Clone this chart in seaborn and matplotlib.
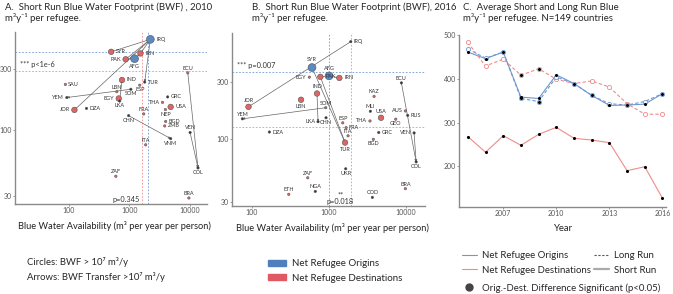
import matplotlib
matplotlib.use('Agg')
import numpy as np
import pandas as pd
import matplotlib.pyplot as plt
import seaborn as sns
from matplotlib.lines import Line2D
from matplotlib.patches import Patch

sns.set_theme(style='white')
plt.rcParams['font.family'] = ['Lato', 'DejaVu Sans']

# ---- panel A: 2010 (o = net origin, d = net destination, k = other) ----
a_code = ['IRQ', 'SYR', 'IRN', 'AFG', 'PAK', 'ECU', 'IND', 'TUR', 'ESP', 'SAU', 'LBN', 'SOM',
          'YEM', 'EGY', 'LKA', 'THA', 'GRC', 'USA', 'NEP', 'JOR', 'DZA', 'FRA', 'CHN', 'BGD',
          'ZMB', 'VEN', 'VNM', 'ITA', 'COL', 'ZAF', 'BRA']
a_bwa = [2213, 500, 1520, 1216, 866, 9160, 755, 1786, 1482, 88, 620, 1056,
         93, 667, 690, 3510, 4270, 4785, 3920, 124, 196, 1722, 970, 3960,
         3820, 10000, 4785, 1853, 13500, 597, 9560]
a_bwf = [514, 410, 398, 362, 358, 280, 246, 237, 224, 227, 199, 208,
         179, 176, 168, 164, 181, 151, 144, 143, 147, 133, 129, 116,
         107, 95, 85, 76, 50, 43, 29]
a_kind = ['o', 'd', 'd', 'o', 'd', 'd', 'd', 'k', 'd', 'd', 'd', 'k',
          'k', 'd', 'k', 'd', 'k', 'd', 'd', 'd', 'k', 'd', 'k', 'd',
          'd', 'k', 'k', 'd', 'k', 'd', 'd']
a_mag = ['L', 'M', 'M', 'L', 'M', 'S', 'M', 'S', 'S', 'S', 'S', 'S',
         'S', 'M', 'S', 'S', 'S', 'M', 'S', 'M', 'S', 'S', 'S', 'S',
         'S', 'S', 'S', 'S', 'S', 'S', 'S']
a_arrows = [('IRQ', 'SYR'), ('IRQ', 'IRN'), ('IRQ', 'PAK'), ('IRQ', 'JOR'), ('IRQ', 'TUR'),
            ('AFG', 'PAK'), ('AFG', 'IRN'), ('SOM', 'YEM'), ('LKA', 'IND'), ('CHN', 'VNM'),
            ('ECU', 'COL'), ('VEN', 'COL')]
a_mean_orig = (2024, 406)
a_mean_dest = (1637, 289)
a_sig_top = '*** p<1e-6'
a_sig_bottom = 'p=0.345'

# ---- panel B: 2016 ----
b_code = ['IRQ', 'SYR', 'PAK', 'AFG', 'IRN', 'EGY', 'ECU', 'IND', 'KAZ', 'LBN', 'JOR', 'SOM',
          'MLI', 'AUS', 'RUS', 'USA', 'YEM', 'THA', 'GEO', 'ESP', 'LKA', 'CHN', 'FRA', 'DZA',
          'GRC', 'VEN', 'ITA', 'BGD', 'TUR', 'UKR', 'COL', 'ZAF', 'BRA', 'NGA', 'ETH', 'COD']
b_bwa = [1914, 601, 771, 1000, 1361, 555, 8690, 698, 3840, 433, 90, 906,
         3436, 9780, 10500, 4730, 75, 3400, 7340, 1506, 720, 914, 1664, 168,
         4415, 12700, 1766, 3760, 1614, 1645, 13500, 529, 9780, 663, 300, 3650]
b_bwf = [646, 394, 330, 336, 323, 328, 294, 240, 227, 213, 186, 183,
         171, 172, 158, 151, 148, 142, 147, 137, 140, 151, 125, 115,
         114, 113, 107, 100, 94, 57, 65, 48, 39, 37, 35, 33]
b_kind = ['k', 'o', 'd', 'o', 'd', 'd', 'k', 'd', 'd', 'd', 'd', 'o',
          'k', 'd', 'k', 'd', 'k', 'd', 'd', 'd', 'k', 'k', 'd', 'k',
          'k', 'k', 'd', 'd', 'd', 'k', 'k', 'd', 'd', 'k', 'd', 'k']
b_mag = ['S', 'L', 'M', 'L', 'M', 'S', 'S', 'M', 'S', 'M', 'M', 'S',
         'S', 'S', 'S', 'M', 'S', 'S', 'S', 'S', 'S', 'S', 'S', 'S',
         'S', 'S', 'S', 'S', 'M', 'S', 'S', 'S', 'S', 'S', 'S', 'S']
b_arrows = [('IRQ', 'JOR'), ('SYR', 'TUR'), ('PAK', 'TUR'), ('AFG', 'PAK'), ('AFG', 'IRN'),
            ('IND', 'LKA'), ('SOM', 'YEM'), ('ECU', 'COL'), ('VEN', 'COL')]
b_mean_orig = (1009, 361)
b_mean_dest = (1950, 127)
b_sig_top = '*** p=0.007'
b_sig_bottom = '**\np=0.018'

# ---- panel C: yearly averages ----
years = list(range(2005, 2017))
orig_short = [461, 446, 461, 358, 355, 409, 389, 362, 339, 340, 342, 366]
orig_long = [468, 447, 461, 355, 348, 404, 389, 362, 343, 340, 348, 366]
dest_short = [268, 232, 270, 248, 273, 289, 264, 260, 254, 190, 199, 127]
dest_long = [483, 429, 445, 408, 423, 399, 389, 395, 381, 343, 319, 319]
sig_short = [True] * 12
sig_long = [False, False, False, True, True, False, False, False, False, False, False, False]

BLUE = '#5b89c4'
RED = '#e06464'
DARK = '#333333'
LBLUE = '#6f98d0'
LRED = '#f28a8a'
GRAY = '#8a8a8a'

# label placement (r/l/a/b = right/left/above/below)
lab_a = {'IRQ': 'r', 'SYR': 'r', 'IRN': 'r', 'AFG': 'b', 'PAK': 'l', 'ECU': 'a', 'IND': 'r',
         'TUR': 'r', 'ESP': 'b', 'SAU': 'r', 'LBN': 'a', 'SOM': 'b', 'YEM': 'l', 'EGY': 'l',
         'LKA': 'b', 'THA': 'l', 'GRC': 'r', 'USA': 'r', 'NEP': 'b', 'JOR': 'l', 'DZA': 'r',
         'FRA': 'a', 'CHN': 'b', 'BGD': 'r', 'ZMB': 'r', 'VEN': 'a', 'VNM': 'b', 'ITA': 'a',
         'COL': 'b', 'ZAF': 'a', 'BRA': 'a'}
lab_b = {'IRQ': 'r', 'SYR': 'a', 'PAK': 'r', 'AFG': 'a', 'IRN': 'r', 'EGY': 'l', 'ECU': 'a',
         'IND': 'a', 'KAZ': 'a', 'LBN': 'b', 'JOR': 'a', 'SOM': 'a', 'MLI': 'a', 'AUS': 'l',
         'RUS': 'r', 'USA': 'a', 'YEM': 'a', 'THA': 'l', 'GEO': 'b', 'ESP': 'a', 'LKA': 'l',
         'CHN': 'b', 'FRA': 'r', 'DZA': 'r', 'GRC': 'r', 'VEN': 'l', 'ITA': 'a', 'BGD': 'b',
         'TUR': 'b', 'UKR': 'b', 'COL': 'b', 'ZAF': 'a', 'BRA': 'a', 'NGA': 'a', 'ETH': 'a',
         'COD': 'a'}


def style_axis(ax):
    sns.despine(ax=ax)
    for s in ['left', 'bottom']:
        ax.spines[s].set_color(GRAY)
        ax.spines[s].set_linewidth(1.0)
    ax.tick_params(axis='both', which='major', length=1.5, width=0.6, color=GRAY,
                   labelsize=5.0, labelcolor='#555555', pad=0.8, left=True, bottom=True)
    ax.tick_params(which='minor', left=False, bottom=False)


def scatter_panel(ax, code, bwa, bwf, kind, mag, arrows, labpos, m_orig, m_dest,
                  sig_top, sig_bottom, xlim, ylim, bottom_left):
    df = pd.DataFrame({'code': code, 'bwa': bwa, 'bwf': bwf, 'kind': kind, 'mag': mag})
    ax.set_xscale('log')
    ax.set_yscale('log')
    ax.axhline(m_orig[1], color=LBLUE, ls=(0, (2, 2)), lw=0.6, zorder=1)
    ax.axvline(m_orig[0], color=LBLUE, ls=(0, (2, 2)), lw=0.6, zorder=1)
    ax.axhline(m_dest[1], color=LRED, ls=(0, (2, 2)), lw=0.6, zorder=1)
    ax.axvline(m_dest[0], color=LRED, ls=(0, (2, 2)), lw=0.6, zorder=1)
    pos = df.set_index('code')
    for a, b in arrows:
        ax.annotate('', xy=(pos.loc[b, 'bwa'], pos.loc[b, 'bwf']),
                    xytext=(pos.loc[a, 'bwa'], pos.loc[a, 'bwf']),
                    arrowprops=dict(arrowstyle='-|>', color='#666666', lw=0.5,
                                    mutation_scale=3, shrinkA=0, shrinkB=0), zorder=2)
    sns.scatterplot(data=df, x='bwa', y='bwf', hue='kind', size='mag',
                    sizes={'L': 32, 'M': 16, 'S': 3},
                    palette={'o': BLUE, 'd': RED, 'k': DARK},
                    edgecolor='#555555', linewidth=0.4, legend=False, ax=ax, zorder=3)
    rad = {'L': 3.2, 'M': 2.4, 'S': 1.0}
    for _, r in df.iterrows():
        p = labpos.get(r['code'], 'r')
        d = rad[r['mag']] + 1
        dx, dy, ha, va = {'r': (d, 0, 'left', 'center'), 'l': (-d, 0, 'right', 'center'),
                          'a': (0, d - 0.5, 'center', 'bottom'),
                          'b': (0, -d + 0.5, 'center', 'top')}[p]
        ax.annotate(r['code'], (r['bwa'], r['bwf']), xytext=(dx, dy), textcoords='offset points',
                    ha=ha, va=va, fontsize=4, color='#333333', zorder=4)
    ax.text(0.025, 0.81, sig_top, transform=ax.transAxes, fontsize=5.3, color='#333333',
            va='center')
    if bottom_left:
        ax.annotate(sig_bottom, (m_dest[0], ylim[0]), xytext=(-2, 1), textcoords='offset points',
                    fontsize=5.3, color='#333333', ha='right', va='bottom')
    else:
        xm = np.sqrt(m_orig[0] * m_dest[0])
        ax.annotate(sig_bottom, (xm, ylim[0]), xytext=(0, 1), textcoords='offset points',
                    fontsize=5.3, color='#333333', ha='center', va='bottom', linespacing=0.9)
    ax.set_xlim(xlim)
    ax.set_ylim(ylim)
    ax.set_xticks([100, 1000, 10000], ['100', '1000', '10000'])
    ax.set_yticks([30, 100, 300], ['30', '100', '300'])
    ax.set_xlabel('Blue Water Availability (m³ per year per person)', fontsize=6.7,
                  color='#222222', labelpad=5)
    ax.xaxis.set_label_coords(0.52, -0.1)
    ax.set_ylabel('')
    style_axis(ax)


fig = plt.figure(figsize=(6.73, 2.94), dpi=100)
W, H = 673, 294
axA = fig.add_axes([15 / W, 1 - 204 / H, 192 / W, 172 / H])
axB = fig.add_axes([232 / W, 1 - 206 / H, 193 / W, 173 / H])
axC = fig.add_axes([459 / W, 1 - 207 / H, 207 / W, 172 / H])

scatter_panel(axA, a_code, a_bwa, a_bwf, a_kind, a_mag, a_arrows, lab_a, a_mean_orig,
              a_mean_dest, a_sig_top, a_sig_bottom, (13, 19000), (26, 587), True)
scatter_panel(axB, b_code, b_bwa, b_bwf, b_kind, b_mag, b_arrows, lab_b, b_mean_orig,
              b_mean_dest, b_sig_top, b_sig_bottom, (55, 17600), (28, 762), False)

# panel C
dfc = pd.DataFrame({
    'year': years * 4,
    'bwf': orig_short + orig_long + dest_short + dest_long,
    'group': ['orig'] * 24 + ['dest'] * 24,
    'run': (['Short Run'] * 12 + ['Long Run'] * 12) * 2,
    'sig': (sig_short + sig_long) * 2,
})
pal = {'orig': LBLUE, 'dest': LRED}
sns.lineplot(data=dfc, x='year', y='bwf', hue='group', style='run', palette=pal,
             dashes={'Short Run': '', 'Long Run': (3, 2)}, lw=0.8, legend=False, ax=axC)
lr = dfc[dfc['run'] == 'Long Run']
for g, sub in lr.groupby('group'):
    axC.plot(sub['year'], sub['bwf'], 'o', ms=3, mfc='white', mec=pal[g], mew=0.6, ls='',
             zorder=3)
sg = dfc[dfc['sig']]
sns.scatterplot(data=sg, x='year', y='bwf', color='black', s=5, linewidth=0, legend=False,
                ax=axC, zorder=4)
axC.set_xlim(2004.5, 2016.2)
axC.set_ylim(107, 500)
axC.set_xticks([2007, 2010, 2013, 2016])
axC.set_yticks([200, 300, 400, 500])
axC.set_xlabel('Year', fontsize=6.9, color='#222222', labelpad=5)
axC.set_ylabel('')
style_axis(axC)

# titles
tfs = 6.9
fig.text(5 / W, 1 - 7 / H, 'A.  Short Run Blue Water Footprint (BWF) , 2010', fontsize=tfs, va='center')
fig.text(5 / W, 1 - 18 / H, 'm³y⁻¹ per refugee.', fontsize=tfs, va='center')
fig.text(252 / W, 1 - 7 / H, 'B.  Short Run Blue Water Footprint (BWF), 2016', fontsize=tfs, va='center')
fig.text(252 / W, 1 - 18 / H, 'm³y⁻¹ per refugee.', fontsize=tfs, va='center')
fig.text(463 / W, 1 - 7 / H, 'C.  Average Short and Long Run Blue', fontsize=tfs, va='center')
fig.text(463 / W, 1 - 18 / H, 'm³y⁻¹ per refugee. N=149 countries', fontsize=tfs, va='center')

# notes bottom left
fig.text(27 / W, 1 - 262 / H, 'Circles: BWF > 10⁷ m³/y', fontsize=6.8, va='center')
fig.text(27 / W, 1 - 277 / H, 'Arrows: BWF Transfer >10⁷ m³/y', fontsize=6.8, va='center')

# legend for scatter panels
fig.legend(handles=[Patch(color='#4f80bd', label='Net Refugee Origins'),
                    Patch(color='#e05a63', label='Net Refugee Destinations')],
           loc='center left', bbox_to_anchor=(263 / W, 1 - 271 / H), frameon=False,
           fontsize=7.0, handlelength=1.9, handleheight=0.55, labelspacing=0.55,
           borderpad=0, handletextpad=0.6)

# legend for panel C
fig.legend(handles=[Line2D([], [], color=LBLUE, lw=0.8, label='Net Refugee Origins'),
                    Line2D([], [], color=LRED, lw=0.8, label='Net Refugee Destinations'),
                    Line2D([], [], color='#555555', lw=0.8, ls=(0, (2, 1.5)), label='Long Run'),
                    Line2D([], [], color='#aaaaaa', lw=1.6, label='Short Run')],
           ncol=2, loc='center left', bbox_to_anchor=(457 / W, 1 - 263 / H), frameon=False,
           fontsize=6.9, handlelength=1.6, labelspacing=0.55, borderpad=0,
           handletextpad=0.5, columnspacing=0.3)
fig.legend(handles=[Line2D([], [], color='#444444', marker='o', ls='', ms=5,
                           label='Orig.-Dest. Difference Significant (p<0.05)')],
           loc='center left', bbox_to_anchor=(457 / W, 1 - 288 / H), frameon=False,
           fontsize=6.9, handlelength=1.6, borderpad=0, handletextpad=0.5)

fig.savefig('out.png', dpi=100)
